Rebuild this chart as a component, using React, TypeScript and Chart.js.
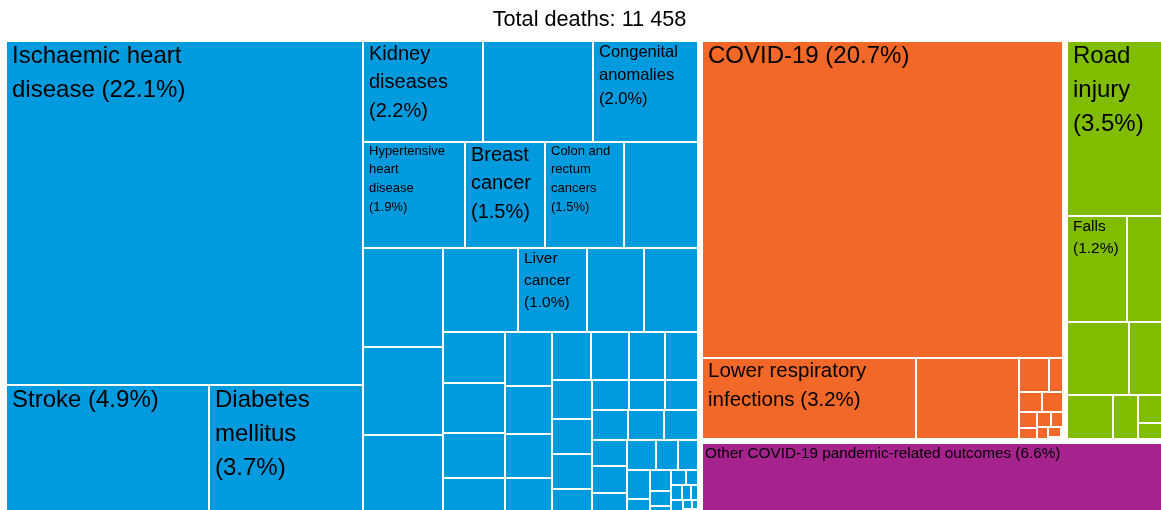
import React, { useEffect, useRef } from 'react';
import { Chart, registerables } from 'chart.js';

Chart.register(...registerables);

// ---------------- data (deaths) ----------------
const TITLE = 'Total deaths: 11 458';

const GROUP_NAMES = [
  'Noncommunicable diseases',
  'Communicable, maternal, perinatal and nutritional conditions',
  'Injuries',
  'Other COVID-19 pandemic-related outcomes',
];

const NCD_DEATHS = [
  2532, 561, 424, 252, 231, 225, 218, 172, 169, 164, 162, 143, 138, 129, 118, 98, 97,
  64, 63, 56, 52, 51, 46, 42, 39, 38.5, 37, 35, 34.5, 32, 29, 28.5, 25,
  22.5, 22.2, 22, 21.8, 21.6, 21.5, 19, 18.8, 18.6, 18.4, 14, 13.8, 13.2, 9.7,
  8.8, 6.5, 5.6, 4.5, 4, 3.5, 3, 2.8, 2.5, 2.1, 1.8, 1.5, 1.2, 1, 0.8, 0.5,
];
const NCD_LABELS = [
  'Ischaemic heart\ndisease (22.1%)',
  'Stroke (4.9%)',
  'Diabetes\nmellitus\n(3.7%)',
  'Kidney\ndiseases\n(2.2%)',
  '',
  'Congenital\nanomalies\n(2.0%)',
  'Hypertensive\nheart\ndisease\n(1.9%)',
  'Breast\ncancer\n(1.5%)',
  'Colon and\nrectum\ncancers\n(1.5%)',
  '', '', '', '', '',
  'Liver\ncancer\n(1.0%)',
];

const CMPN_DEATHS = [2372, 365, 174, 20.2, 10.4, 9.5, 9.4, 5.6, 5.0, 4.4, 4.2, 3.1, 2.4, 1.2, 0.6, 0.3, 0.2];
const CMPN_LABELS = ['COVID-19 (20.7%)', 'Lower respiratory\ninfections (3.2%)'];

const INJ_DEATHS = [397, 134, 105, 96, 69, 45.5, 23, 21, 13.8];
const INJ_LABELS = ['Road\ninjury\n(3.5%)', 'Falls\n(1.2%)'];

const OTHER_DEATHS = [753];
const OTHER_LABELS = ['Other COVID-19 pandemic-related outcomes (6.6%)'];

// ---------------- styles ----------------
const GROUP_COLORS = ['#009ADE', '#F26829', '#80BC00', '#A6228C'];
const NCD_LABEL_SIZES = [24, 24, 24, 20, 0, 16.5, 13, 20, 13, 0, 0, 0, 0, 0, 15.5];
const CMPN_LABEL_SIZES = [24, 20.5];
const INJ_LABEL_SIZES = [24, 15.5];
const OTHER_LABEL_SIZES = [15.3];
const NCD_LABEL_PAD = 5;
const CMPN_LABEL_PAD = 5;
const INJ_LABEL_PAD = 5;
const OTHER_LABEL_PAD = 2;
const FONT_FAMILY = '"Liberation Sans", Arial, Helvetica, sans-serif';

const GROUPS = [
  { name: GROUP_NAMES[0], values: NCD_DEATHS, labels: NCD_LABELS, sizes: NCD_LABEL_SIZES, pad: NCD_LABEL_PAD, color: GROUP_COLORS[0] },
  { name: GROUP_NAMES[1], values: CMPN_DEATHS, labels: CMPN_LABELS, sizes: CMPN_LABEL_SIZES, pad: CMPN_LABEL_PAD, color: GROUP_COLORS[1] },
  { name: GROUP_NAMES[2], values: INJ_DEATHS, labels: INJ_LABELS, sizes: INJ_LABEL_SIZES, pad: INJ_LABEL_PAD, color: GROUP_COLORS[2] },
  { name: GROUP_NAMES[3], values: OTHER_DEATHS, labels: OTHER_LABELS, sizes: OTHER_LABEL_SIZES, pad: OTHER_LABEL_PAD, color: GROUP_COLORS[3] },
];

// ---------------- ordered treemap (pivot-by-size) ----------------
type R = { x: number; y: number; w: number; h: number };

function pivotLayout(values: number[], idx: number[], rect: R, out: R[]): void {
  if (!idx.length) return;
  if (idx.length === 1) {
    out[idx[0]] = rect;
    return;
  }
  const total = idx.reduce((s, i) => s + values[i], 0);
  const p = values[idx[0]];
  const wide = rect.w >= rect.h;
  let best = 0;
  let bestAR = Infinity;
  let acc = p;
  for (let k = 0; k < idx.length; k++) {
    if (k > 0) acc += values[idx[k]];
    let pw: number, ph: number;
    if (wide) {
      pw = (rect.w * acc) / total;
      ph = (rect.h * p) / acc;
    } else {
      ph = (rect.h * acc) / total;
      pw = (rect.w * p) / acc;
    }
    const ar = Math.max(pw / ph, ph / pw);
    if (ar < bestAR) {
      bestAR = ar;
      best = k;
    }
  }
  const l2 = idx.slice(1, best + 1);
  const l3 = idx.slice(best + 1);
  const band = p + l2.reduce((s, i) => s + values[i], 0);
  if (wide) {
    const bw = (rect.w * band) / total;
    const ph = (rect.h * p) / band;
    out[idx[0]] = { x: rect.x, y: rect.y, w: bw, h: ph };
    pivotLayout(values, l2, { x: rect.x, y: rect.y + ph, w: bw, h: rect.h - ph }, out);
    pivotLayout(values, l3, { x: rect.x + bw, y: rect.y, w: rect.w - bw, h: rect.h }, out);
  } else {
    const bh = (rect.h * band) / total;
    const pw = (rect.w * p) / band;
    out[idx[0]] = { x: rect.x, y: rect.y, w: pw, h: bh };
    pivotLayout(values, l2, { x: rect.x + pw, y: rect.y, w: rect.w - pw, h: bh }, out);
    pivotLayout(values, l3, { x: rect.x, y: rect.y + bh, w: rect.w, h: rect.h - bh }, out);
  }
}

const CELL_GAP = 1; // half of the white line between cells
const GROUP_GAP = 3; // half of the white line between groups

const treemapPlugin = {
  id: 'treemapCells',
  afterDatasetsDraw(chart: any) {
    const { ctx } = chart;
    const xs = chart.scales.x;
    const ys = chart.scales.y;
    const left = xs.getPixelForValue(0);
    const right = xs.getPixelForValue(1);
    const top = ys.getPixelForValue(0);
    const bottom = ys.getPixelForValue(1);
    const frame: R = { x: left, y: top, w: right - left, h: bottom - top };

    const totals = GROUPS.map((g) => g.values.reduce((s, v) => s + v, 0));
    const groupRects: R[] = [];
    pivotLayout(totals, totals.map((_, i) => i), frame, groupRects);

    ctx.save();
    GROUPS.forEach((g, gi) => {
      const G = groupRects[gi];
      const cells: R[] = [];
      pivotLayout(g.values, g.values.map((_, i) => i), G, cells);
      const near = (a: number, b: number) => Math.abs(a - b) < 0.5;
      cells.forEach((c, ci) => {
        const x0 = Math.round(c.x + (near(c.x, G.x) ? GROUP_GAP : CELL_GAP));
        const y0 = Math.round(c.y + (near(c.y, G.y) ? GROUP_GAP : CELL_GAP));
        const x1 = Math.round(c.x + c.w - (near(c.x + c.w, G.x + G.w) ? GROUP_GAP : CELL_GAP));
        const y1 = Math.round(c.y + c.h - (near(c.y + c.h, G.y + G.h) ? GROUP_GAP : CELL_GAP));
        if (x1 <= x0 || y1 <= y0) return;
        ctx.fillStyle = g.color;
        ctx.fillRect(x0, y0, x1 - x0, y1 - y0);
        const label = g.labels[ci];
        const fs = g.sizes[ci];
        if (label && fs) {
          ctx.fillStyle = '#000';
          ctx.font = `${fs}px ${FONT_FAMILY}`;
          ctx.textAlign = 'left';
          ctx.textBaseline = 'alphabetic';
          const lines = label.split('\n');
          lines.forEach((ln, li) => {
            ctx.fillText(ln, x0 + g.pad, y0 + 1.5 + 0.8 * fs + li * 1.43 * fs);
          });
        }
      });
    });
    ctx.restore();
  },
};

export default function App() {
  const ref = useRef<HTMLCanvasElement>(null);
  useEffect(() => {
    const canvas = ref.current;
    if (!canvas) return;
    const chart = new Chart(canvas, {
      type: 'scatter',
      data: { datasets: [{ data: [], pointRadius: 0 }] },
      options: {
        animation: false,
        responsive: false,
        maintainAspectRatio: false,
        devicePixelRatio: 1,
        layout: { padding: { left: 4, right: 5, top: 0, bottom: 4.8 } },
        scales: {
          x: { type: 'linear', min: 0, max: 1, display: false },
          y: { type: 'linear', min: 0, max: 1, reverse: true, display: false },
        },
        plugins: {
          legend: { display: false },
          tooltip: { enabled: false },
          title: {
            display: true,
            text: TITLE,
            color: '#000',
            font: { family: FONT_FAMILY, size: 21.7, weight: 400 as any },
            padding: { top: 7, bottom: 6 },
          },
        },
      },
      plugins: [treemapPlugin],
    });
    return () => chart.destroy();
  }, []);
  return (
    <div style={{ position: 'fixed', left: 0, top: 0, right: 0, bottom: 0, overflow: 'hidden', background: '#fff' }}>
      <canvas ref={ref} width={1180} height={524} style={{ display: 'block' }} />
    </div>
  );
}
